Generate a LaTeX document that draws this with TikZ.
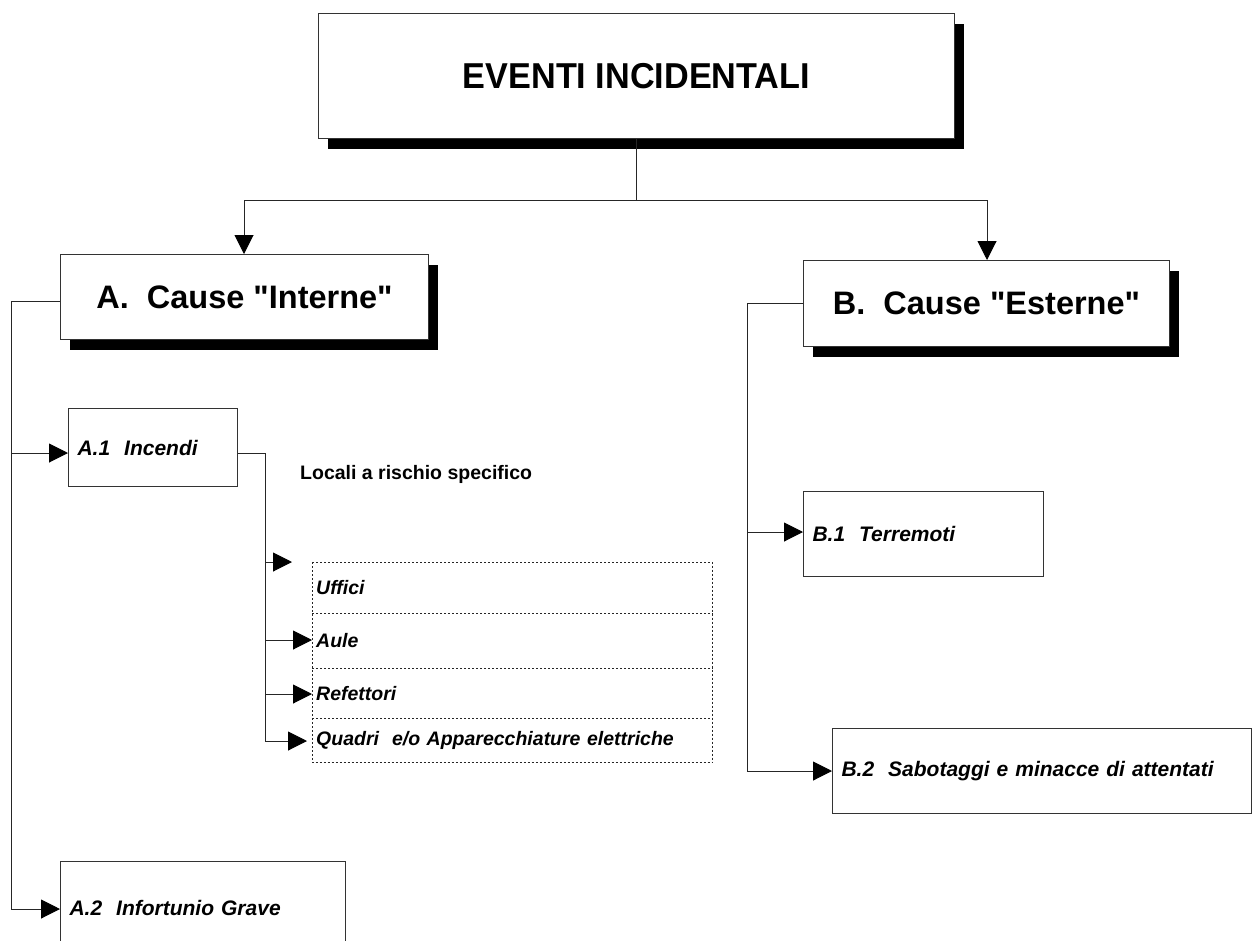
\documentclass[tikz,border=0pt]{standalone}
\usepackage{fontspec}
\usepackage{graphicx}
\setmainfont{Liberation Sans}[Ligatures=TeXOff]
\usetikzlibrary{arrows.meta,shadows}
\begin{document}
\begin{tikzpicture}[x=1pt,y=-1pt,
  conn/.style={line width=1pt, draw=black!85},
  arr/.style={conn, -{Triangle[length=19pt,width=19pt,color=black,fill=black]}},
  boxbase/.style={draw=black!80, line width=1pt, fill=white, inner sep=0pt, anchor=north west},
  bigbox/.style={boxbase, drop shadow={shadow xshift=9pt, shadow yshift=-10pt, fill=black, opacity=1}, align=center},
  smallbox/.style={boxbase, align=left, inner xsep=9pt, font=\fontsize{21}{25}\selectfont\bfseries\itshape},
  rowbox/.style={inner sep=0pt, anchor=north west,
     minimum width=400pt, align=left, text width=392pt, inner xsep=4pt, font=\fontsize{19.5}{23}\selectfont\bfseries\itshape},
  dotline/.style={draw=black!85, line width=0.8pt, dash pattern=on 2pt off 2pt},
  plain/.style={inner sep=0pt, font=\fontsize{19.5}{23}\selectfont\bfseries}
]
\useasboundingbox (0,0) rectangle (1252,940);

% main boxes
\node[bigbox, minimum width=636pt, minimum height=125pt] (top) at (318,13)
  {\fontsize{36}{40}\selectfont\bfseries\scalebox{0.95}[1]{EVENTI INCIDENTALI}};
\node[bigbox, minimum width=368pt, minimum height=85pt] (A) at (60,254)
  {\fontsize{32.5}{38}\selectfont\bfseries A.\ \ Cause "Interne"};
\node[bigbox, minimum width=366pt, minimum height=86pt] (B) at (803,260)
  {\fontsize{32.5}{38}\selectfont\bfseries B.\ \ Cause "Esterne"};

% sub boxes
\node[smallbox, minimum width=169pt, minimum height=78pt, text width=151pt] (a1) at (68,408) {A.1\ \ Incendi};
\node[smallbox, minimum width=285pt, minimum height=92pt, text width=267pt] (a2) at (60,861) {A.2\ \ Infortunio Grave};
\node[smallbox, minimum width=240pt, minimum height=85pt, text width=222pt] (b1) at (803,491) {B.1\ \ Terremoti};
\node[smallbox, minimum width=419pt, minimum height=85pt, text width=401pt] (b2) at (832,728) {B.2\ \ Sabotaggi e minacce di attentati};

\node[plain, anchor=west] (loc) at (300,474) {Locali a rischio specifico};

% dotted rows
\node[rowbox, minimum height=51pt] (r1) at (312,562) {Uffici};
\node[rowbox, minimum height=55pt] (r2) at (312,613) {Aule};
\node[rowbox, minimum height=50pt] (r3) at (312,668) {Refettori};
\node[rowbox, minimum height=44pt] (r4) at (312,718) {Quadri\ \ e/o Apparecchiature elettriche};
\draw[dotline] (r1.north west) -- (r1.north east) -- (r4.south east);
\draw[dotline] (r1.north west) -- (r4.south west) -- (r4.south east);
\draw[dotline] (r1.south west) -- (r1.south east);
\draw[dotline] (r2.south west) -- (r2.south east);
\draw[dotline] (r3.south west) -- (r3.south east);

% top connectors
\coordinate (tj) at (636,200);
\draw[conn] (top.south -| tj) -- (tj);
\draw[arr] (tj) -| (A.north -| 244,0);
\draw[arr] (tj) -| (B.north -| 987,0);

% A branch
\coordinate (ja) at (11,301);
\coordinate (ja1) at (11,453);
\coordinate (ja2) at (11,909);
\draw[conn] (A.west |- ja) -- (ja) -- (ja2);
\draw[arr] (ja1) -- (ja1 -| a1.west);
\draw[arr] (ja2) -- (ja2 -| a2.west);

% A.1 branch
\coordinate (s0) at (265,453);
\coordinate (s1) at (265,562);
\coordinate (s2) at (265,640);
\coordinate (s3) at (265,694);
\coordinate (s4) at (265,741);
\coordinate (e1) at (292,562);
\draw[conn] (a1.east |- s0) -- (s0) -- (s4);
\draw[arr] (s1) -- (e1);
\draw[arr] (s2) -- (s2 -| r2.west);
\draw[arr] (s3) -- (s3 -| r3.west);
\draw[arr, shorten >=5pt] (s4) -- (s4 -| r4.west);

% B branch
\coordinate (jb) at (747,303);
\coordinate (jb1) at (747,532);
\coordinate (jb2) at (747,771);
\draw[conn] (B.west |- jb) -- (jb) -- (jb2);
\draw[arr] (jb1) -- (jb1 -| b1.west);
\draw[arr] (jb2) -- (jb2 -| b2.west);
\end{tikzpicture}
\end{document}
